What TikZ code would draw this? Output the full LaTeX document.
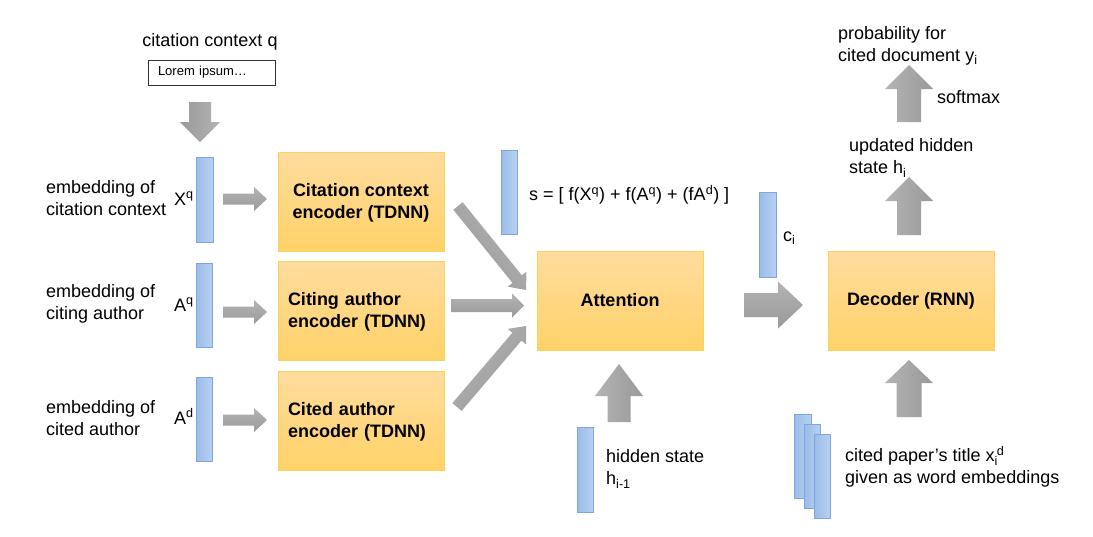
\documentclass[tikz,border=0pt]{standalone}
\usepackage{fontspec}
\setmainfont{Liberation Sans}
\usetikzlibrary{calc}
\definecolor{barfillL}{HTML}{9BBCE8}
\definecolor{barfillR}{HTML}{B8D0F0}
\definecolor{barline}{HTML}{7EA6E0}
\definecolor{boxtop}{HTML}{FFDC9E}
\definecolor{boxbot}{HTML}{FFD268}
\definecolor{boxline}{HTML}{FAD35E}
\definecolor{arrL}{HTML}{B4B4B4}
\definecolor{arrD}{HTML}{999999}
\tikzset{
  txt/.style={inner sep=0pt, font=\fontsize{18}{22}\selectfont, align=left},
  enc/.style={draw=boxline, line width=0.8pt, top color=boxtop, bottom color=boxbot,
    minimum width=166pt, minimum height=99pt, inner sep=0pt,
    font=\fontsize{18}{22}\selectfont\bfseries},
  bar/.style={draw=barline, line width=0.8pt, left color=barfillL, right color=barfillR},
  arrowshade/.style={top color=arrL, bottom color=arrD, draw=none},
}
% #1 start, #2 end, #3 half shaft, #4 half head, #5 head length, #6 shading angle
\newcommand\fatarr[6]{%
  \coordinate (fhb) at ($(#2)!#5!(#1)$);
  \shade[arrowshade, shading angle=#6]
    ($(#1)!#3!90:(#2)$) -- ($(fhb)!#3!-90:(#1)$) -- ($(fhb)!#4!-90:(#1)$) -- (#2)
    -- ($(fhb)!#4!90:(#1)$) -- ($(fhb)!#3!90:(#1)$) -- ($(#1)!#3!-90:(#2)$) -- cycle;
}
\begin{document}
\begin{tikzpicture}[x=1pt,y=-1pt]
\useasboundingbox (0,0) rectangle (1093,536);
\fill[white] (0,0) rectangle (1093,536);

% input
\node[txt] (ctxq) at (210,42) {citation context q};
\node[draw=black!80, line width=0.8pt, inner xsep=10pt, inner ysep=0pt, text width=107pt,
  minimum height=25pt, align=left, font=\fontsize{13}{15}\selectfont] (lorem) at (211.5,72.5) {Lorem ipsum\ldots};

% left labels
\node[txt, anchor=west] (l1) at (46,198) {embedding of\\citation context};
\node[txt, anchor=west] (l2) at (46,304) {embedding of\\citing author};
\node[txt, anchor=west] (l3) at (46,418) {embedding of\\cited author};
\node[txt, anchor=base west] (xq) at (174,205) {X\textsuperscript{q}};
\node[txt, anchor=base west] (aq) at (174,311) {A\textsuperscript{q}};
\node[txt, anchor=base west] (ad) at (174,424) {A\textsuperscript{d}};

% bars
\shade[bar] (196,157) rectangle (213,242);
\shade[bar] (196,263) rectangle (212,347);
\shade[bar] (196,377) rectangle (212,461);
\shade[bar] (501,150) rectangle (517,234);
\shade[bar] (759,192) rectangle (776,277);
\shade[bar] (577,427) rectangle (593,512);
\shade[bar] (794,414) rectangle (811,498);
\shade[bar] (804,424) rectangle (820,508);
\shade[bar] (814,434) rectangle (830,518);

% boxes
\node[enc, align=center] (enc1) at (361,201.5) {\rule{0pt}{15pt}Citation context\\encoder (TDNN)};
\node[enc, align=left, text width=146pt] (enc2) at (361,311) {\rule{0pt}{15pt}Citing author\\encoder (TDNN)};
\node[enc, align=left, text width=146pt] (enc3) at (361,420.5) {\rule{0pt}{15pt}Cited author\\encoder (TDNN)};
\node[enc, align=center] (att) at (620,300.5) {Attention};
\node[enc, align=center] (dec) at (911,301) {Decoder (RNN)};

% texts
\node[txt, anchor=west] (sform) at (529,195) {s = [ f(X\textsuperscript{q}) + f(A\textsuperscript{q}) + (fA\textsuperscript{d}) ]};
\node[txt, anchor=base west] (ci) at (783,241) {c\textsubscript{i}};
\node[txt, anchor=west] (hid) at (606,469) {hidden state\\h\textsubscript{i-1}};
\node[txt, anchor=west] (title) at (845,467) {cited paper’s title x\textsubscript{i}\kern-1pt\textsuperscript{d}\\given as word embeddings};
\node[txt, anchor=west] (upd) at (849,158) {updated hidden\\state h\textsubscript{i}};
\node[txt, anchor=west] (prob) at (838,46) {probability for\\cited document y\textsubscript{i}};
\node[txt, anchor=west] (smax) at (937,97) {softmax};

% arrow end points
\coordinate (a0s) at (200,102); \coordinate (a0e) at (200,142);
\coordinate (a1s) at (223,199); \coordinate (a1e) at (267,199);
\coordinate (a2s) at (223,312); \coordinate (a2e) at (267,312);
\coordinate (a3s) at (223,420); \coordinate (a3e) at (267,420);
\coordinate (b1s) at (458,206); \coordinate (b1e) at (526,290);
\coordinate (b2s) at (451,305.5); \coordinate (b2e) at (524,305.5);
\coordinate (b3s) at (457,407); \coordinate (b3e) at (526,326);
\coordinate (cs) at (744,305); \coordinate (ce) at (803,305);
\coordinate (hs) at (619,422); \coordinate (he) at (619,364);
\coordinate (d1s) at (909,417); \coordinate (d1e) at (909,360);
\coordinate (d2s) at (909,235); \coordinate (d2e) at (909,177);
\coordinate (d3s) at (909,122); \coordinate (d3e) at (909,65);

\fatarr{a0s}{a0e}{11pt}{20pt}{20pt}{-90}
\fatarr{a1s}{a1e}{5.5pt}{12pt}{13pt}{0}
\fatarr{a2s}{a2e}{5.5pt}{12pt}{13pt}{0}
\fatarr{a3s}{a3e}{5.5pt}{12pt}{13pt}{0}
\fatarr{b1s}{b1e}{6pt}{12pt}{14pt}{-51}
\fatarr{b2s}{b2e}{6.5pt}{12pt}{12pt}{0}
\fatarr{b3s}{b3e}{6pt}{12pt}{14pt}{49}
\fatarr{cs}{ce}{12pt}{23.5pt}{25pt}{0}
\fatarr{hs}{he}{11.5pt}{24pt}{32pt}{90}
\fatarr{d1s}{d1e}{12.5pt}{24pt}{23pt}{90}
\fatarr{d2s}{d2e}{12pt}{24pt}{24pt}{90}
\fatarr{d3s}{d3e}{12pt}{24pt}{24pt}{90}
\end{tikzpicture}
\end{document}
